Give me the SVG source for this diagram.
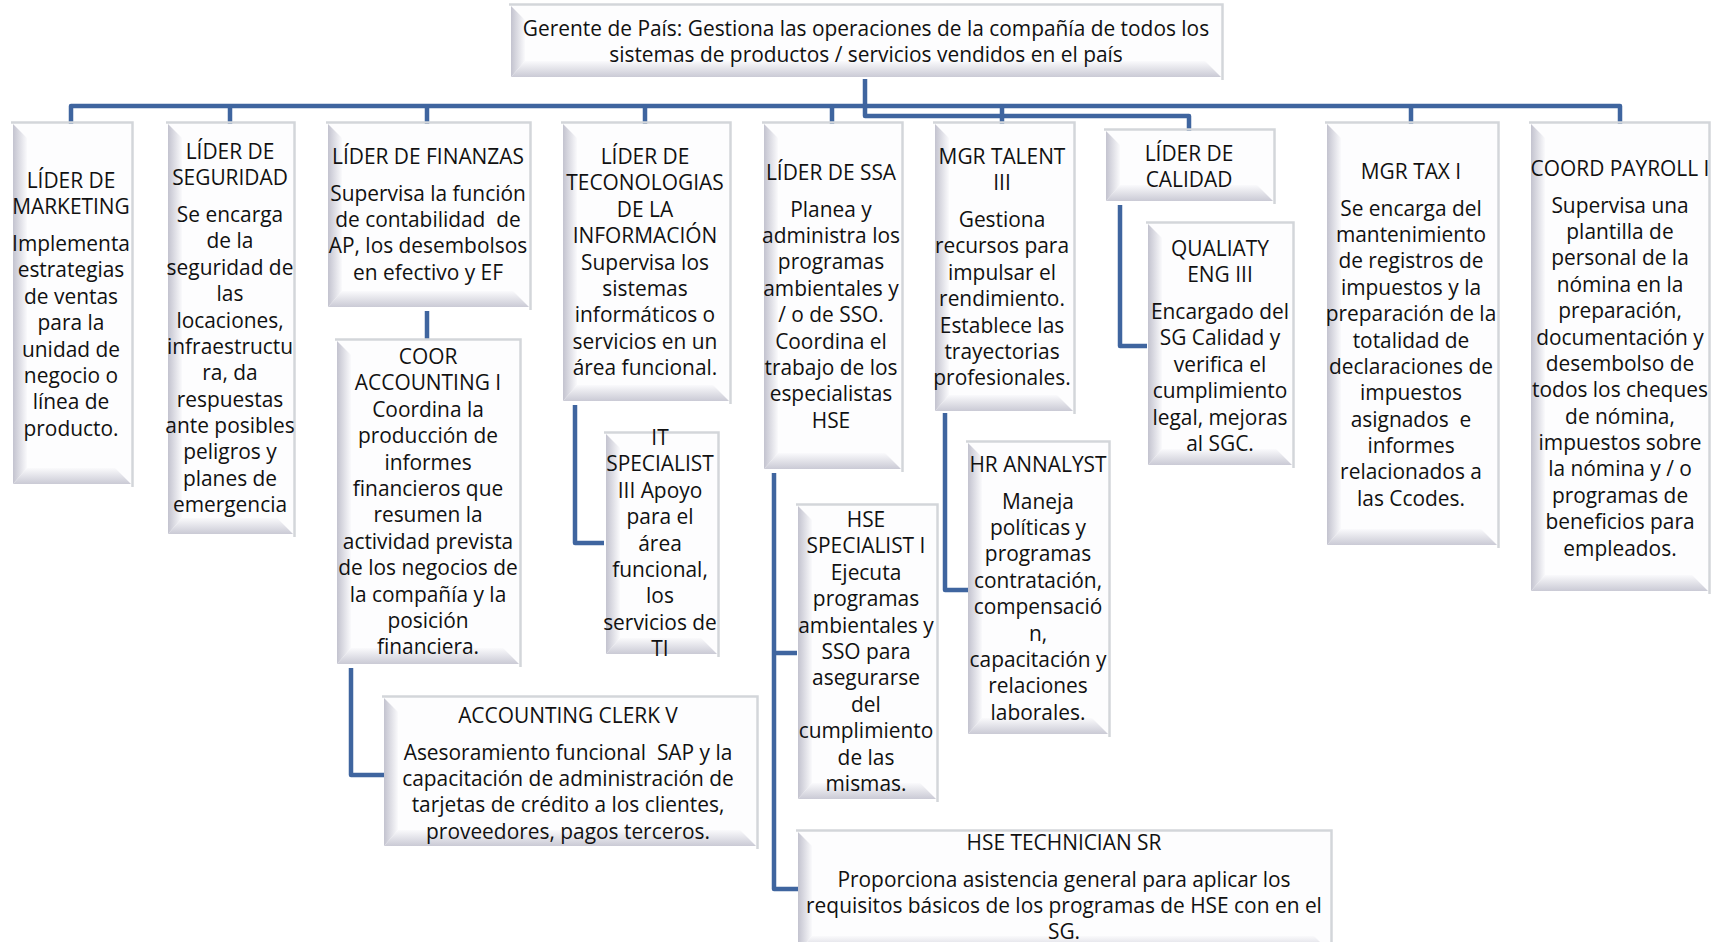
<svg xmlns="http://www.w3.org/2000/svg" width="1717" height="942" viewBox="0 0 1717 942">
  <style>
    .frame { fill: none; stroke: #d3d6da; stroke-width: 2.5; }
    .face { fill: #fdfdfe; }
    .bl { fill: url(#bevelLeft); }
    .bb { fill: url(#bevelBottom); }
    .t { font-family: "Open Sans", "Noto Sans", "Liberation Sans", sans-serif; font-size: 20.9px; fill: #111111; text-anchor: middle; white-space: pre; }
    .conn { fill: none; stroke: #3f659f; stroke-width: 4.5; stroke-linejoin: round; }
  </style>
  <defs>
    <linearGradient id="bevelLeft" x1="0" y1="0" x2="1" y2="0">
      <stop offset="0" stop-color="#c3c3cf"/>
      <stop offset="1" stop-color="#fafafc"/>
    </linearGradient>
    <linearGradient id="bevelBottom" x1="0" y1="0" x2="0" y2="1">
      <stop offset="0" stop-color="#fafafc"/>
      <stop offset="1" stop-color="#cacad5"/>
    </linearGradient>
  </defs>
  <rect width="1717" height="942" fill="#ffffff"/>

  <!-- connectors -->
  <g id="connectors">
    <path class="conn" d="M865,79 V116 H1189 V131"/>
    <path class="conn" d="M71,124 V106 H1620 V124"/>
    <path class="conn" d="M230,106 V124 M427,106 V124 M645,106 V124 M832,106 V124 M1002,106 V124 M1411,106 V124"/>
    <path class="conn" d="M427,311 V339"/>
    <path class="conn" d="M351,668 V775 H384"/>
    <path class="conn" d="M575,405 V543 H604"/>
    <path class="conn" d="M774,473 V889 H798 M774,653 H797"/>
    <path class="conn" d="M945,413 V590 H968"/>
    <path class="conn" d="M1120,205 V346 H1147"/>
  </g>

  <!-- country manager -->
  <g id="gerente">
    <path class="frame" d="M509,4.5 H1222.5 V80"/>
    <rect class="face" x="511" y="6" width="710" height="71"/>
    <polygon class="bl" points="511,6 525,20 525,61 511,77"/>
    <polygon class="bb" points="511,77 525,61 1205,61 1221,77"/>
    <text class="t"><tspan x="866" y="36">Gerente de País: Gestiona las operaciones de la compañía de todos los</tspan><tspan x="866" dy="26.4">sistemas de productos / servicios vendidos en el país</tspan></text>
  </g>

  <g id="marketing">
    <path class="frame" d="M11,122.5 H132.5 V487"/>
    <rect class="face" x="13" y="124" width="118" height="360"/>
    <polygon class="bl" points="13,124 27,138 27,468 13,484"/>
    <polygon class="bb" points="13,484 27,468 115,468 131,484"/>
    <text class="t"><tspan x="71" y="188">LÍDER DE</tspan><tspan x="71" dy="26.4">MARKETING</tspan><tspan x="71" dy="36.5">Implementa</tspan><tspan x="71" dy="26.4">estrategias</tspan><tspan x="71" dy="26.4">de ventas</tspan><tspan x="71" dy="26.4">para la</tspan><tspan x="71" dy="26.4">unidad de</tspan><tspan x="71" dy="26.4">negocio o</tspan><tspan x="71" dy="26.4">línea de</tspan><tspan x="71" dy="26.4">producto.</tspan></text>
  </g>

  <g id="seguridad">
    <path class="frame" d="M166,122.5 H294.5 V537"/>
    <rect class="face" x="168" y="124" width="125" height="410"/>
    <polygon class="bl" points="168,124 182,138 182,518 168,534"/>
    <polygon class="bb" points="168,534 182,518 277,518 293,534"/>
    <text class="t"><tspan x="230" y="159">LÍDER DE</tspan><tspan x="230" dy="26.4">SEGURIDAD</tspan><tspan x="230" dy="36.5">Se encarga</tspan><tspan x="230" dy="26.4">de la</tspan><tspan x="230" dy="26.4">seguridad de</tspan><tspan x="230" dy="26.4">las</tspan><tspan x="230" dy="26.4">locaciones,</tspan><tspan x="230" dy="26.4">infraestructu</tspan><tspan x="230" dy="26.4">ra, da</tspan><tspan x="230" dy="26.4">respuestas</tspan><tspan x="230" dy="26.4">ante posibles</tspan><tspan x="230" dy="26.4">peligros y</tspan><tspan x="230" dy="26.4">planes de</tspan><tspan x="230" dy="26.4">emergencia</tspan></text>
  </g>

  <g id="finanzas">
    <path class="frame" d="M326,122.5 H530.5 V310"/>
    <rect class="face" x="328" y="124" width="201" height="183"/>
    <polygon class="bl" points="328,124 342,138 342,291 328,307"/>
    <polygon class="bb" points="328,307 342,291 513,291 529,307"/>
    <text class="t"><tspan x="428" y="164">LÍDER DE FINANZAS</tspan><tspan x="428" dy="36.5">Supervisa la función</tspan><tspan x="428" dy="26.4">de contabilidad  de</tspan><tspan x="428" dy="26.4">AP, los desembolsos</tspan><tspan x="428" dy="26.4">en efectivo y EF</tspan></text>
  </g>

  <g id="coor-accounting">
    <path class="frame" d="M335,339.5 H520.5 V667"/>
    <rect class="face" x="337" y="341" width="182" height="323"/>
    <polygon class="bl" points="337,341 351,355 351,648 337,664"/>
    <polygon class="bb" points="337,664 351,648 503,648 519,664"/>
    <text class="t"><tspan x="428" y="364">COOR</tspan><tspan x="428" dy="26.4">ACCOUNTING I</tspan><tspan x="428" dy="26.4">Coordina la</tspan><tspan x="428" dy="26.4">producción de</tspan><tspan x="428" dy="26.4">informes</tspan><tspan x="428" dy="26.4">financieros que</tspan><tspan x="428" dy="26.4">resumen la</tspan><tspan x="428" dy="26.4">actividad prevista</tspan><tspan x="428" dy="26.4">de los negocios de</tspan><tspan x="428" dy="26.4">la compañía y la</tspan><tspan x="428" dy="26.4">posición</tspan><tspan x="428" dy="26.4">financiera.</tspan></text>
  </g>

  <g id="accounting-clerk">
    <path class="frame" d="M382,696.5 H757.5 V849"/>
    <rect class="face" x="384" y="698" width="372" height="148"/>
    <polygon class="bl" points="384,698 398,712 398,830 384,846"/>
    <polygon class="bb" points="384,846 398,830 740,830 756,846"/>
    <text class="t"><tspan x="568" y="723">ACCOUNTING CLERK V</tspan><tspan x="568" dy="36.5">Asesoramiento funcional  SAP y la</tspan><tspan x="568" dy="26.4">capacitación de administración de</tspan><tspan x="568" dy="26.4">tarjetas de crédito a los clientes,</tspan><tspan x="568" dy="26.4">proveedores, pagos terceros.</tspan></text>
  </g>

  <g id="tecnologias">
    <path class="frame" d="M561,122.5 H730.5 V404"/>
    <rect class="face" x="563" y="124" width="166" height="277"/>
    <polygon class="bl" points="563,124 577,138 577,385 563,401"/>
    <polygon class="bb" points="563,401 577,385 713,385 729,401"/>
    <text class="t"><tspan x="645" y="164">LÍDER DE</tspan><tspan x="645" dy="26.4">TECONOLOGIAS</tspan><tspan x="645" dy="26.4">DE LA</tspan><tspan x="645" dy="26.4">INFORMACIÓN</tspan><tspan x="645" dy="26.4">Supervisa los</tspan><tspan x="645" dy="26.4">sistemas</tspan><tspan x="645" dy="26.4">informáticos o</tspan><tspan x="645" dy="26.4">servicios en un</tspan><tspan x="645" dy="26.4">área funcional.</tspan></text>
  </g>

  <g id="it-specialist">
    <path class="frame" d="M604,432.5 H718.5 V657"/>
    <rect class="face" x="606" y="434" width="111" height="220"/>
    <polygon class="bl" points="606,434 620,448 620,638 606,654"/>
    <polygon class="bb" points="606,654 620,638 701,638 717,654"/>
    <text class="t"><tspan x="660" y="445">IT</tspan><tspan x="660" dy="26.4">SPECIALIST</tspan><tspan x="660" dy="26.4">III Apoyo</tspan><tspan x="660" dy="26.4">para el</tspan><tspan x="660" dy="26.4">área</tspan><tspan x="660" dy="26.4">funcional,</tspan><tspan x="660" dy="26.4">los</tspan><tspan x="660" dy="26.4">servicios de</tspan><tspan x="660" dy="26.4">TI</tspan></text>
  </g>

  <g id="ssa">
    <path class="frame" d="M762,122.5 H902.5 V472"/>
    <rect class="face" x="764" y="124" width="137" height="345"/>
    <polygon class="bl" points="764,124 778,138 778,453 764,469"/>
    <polygon class="bb" points="764,469 778,453 885,453 901,469"/>
    <text class="t"><tspan x="831" y="180">LÍDER DE SSA</tspan><tspan x="831" dy="36.5">Planea y</tspan><tspan x="831" dy="26.4">administra los</tspan><tspan x="831" dy="26.4">programas</tspan><tspan x="831" dy="26.4">ambientales y</tspan><tspan x="831" dy="26.4">/ o de SSO.</tspan><tspan x="831" dy="26.4">Coordina el</tspan><tspan x="831" dy="26.4">trabajo de los</tspan><tspan x="831" dy="26.4">especialistas</tspan><tspan x="831" dy="26.4">HSE</tspan></text>
  </g>

  <g id="hse-specialist">
    <path class="frame" d="M796,504.5 H937.5 V802"/>
    <rect class="face" x="798" y="506" width="138" height="293"/>
    <polygon class="bl" points="798,506 812,520 812,783 798,799"/>
    <polygon class="bb" points="798,799 812,783 920,783 936,799"/>
    <text class="t"><tspan x="866" y="527">HSE</tspan><tspan x="866" dy="26.4">SPECIALIST I</tspan><tspan x="866" dy="26.4">Ejecuta</tspan><tspan x="866" dy="26.4">programas</tspan><tspan x="866" dy="26.4">ambientales y</tspan><tspan x="866" dy="26.4">SSO para</tspan><tspan x="866" dy="26.4">asegurarse</tspan><tspan x="866" dy="26.4">del</tspan><tspan x="866" dy="26.4">cumplimiento</tspan><tspan x="866" dy="26.4">de las</tspan><tspan x="866" dy="26.4">mismas.</tspan></text>
  </g>

  <g id="hse-technician">
    <path class="frame" d="M796,830.5 H1331.5 V955"/>
    <rect class="face" x="798" y="832" width="532" height="120"/>
    <polygon class="bl" points="798,832 812,846 812,936 798,952"/>
    <polygon class="bb" points="798,952 812,936 1314,936 1330,952"/>
    <text class="t"><tspan x="1064" y="850">HSE TECHNICIAN SR</tspan><tspan x="1064" dy="36.5">Proporciona asistencia general para aplicar los</tspan><tspan x="1064" dy="26.4">requisitos básicos de los programas de HSE con en el</tspan><tspan x="1064" dy="26.4">SG.</tspan></text>
  </g>

  <g id="talent">
    <path class="frame" d="M933,122.5 H1074.5 V414"/>
    <rect class="face" x="935" y="124" width="138" height="287"/>
    <polygon class="bl" points="935,124 949,138 949,395 935,411"/>
    <polygon class="bb" points="935,411 949,395 1057,395 1073,411"/>
    <text class="t"><tspan x="1002" y="164">MGR TALENT</tspan><tspan x="1002" dy="26.4">III</tspan><tspan x="1002" dy="36.5">Gestiona</tspan><tspan x="1002" dy="26.4">recursos para</tspan><tspan x="1002" dy="26.4">impulsar el</tspan><tspan x="1002" dy="26.4">rendimiento.</tspan><tspan x="1002" dy="26.4">Establece las</tspan><tspan x="1002" dy="26.4">trayectorias</tspan><tspan x="1002" dy="26.4">profesionales.</tspan></text>
  </g>

  <g id="hr-analyst">
    <path class="frame" d="M966,441.5 H1109.5 V737"/>
    <rect class="face" x="968" y="443" width="140" height="291"/>
    <polygon class="bl" points="968,443 982,457 982,718 968,734"/>
    <polygon class="bb" points="968,734 982,718 1092,718 1108,734"/>
    <text class="t"><tspan x="1038" y="472">HR ANNALYST</tspan><tspan x="1038" dy="36.5">Maneja</tspan><tspan x="1038" dy="26.4">políticas y</tspan><tspan x="1038" dy="26.4">programas</tspan><tspan x="1038" dy="26.4">contratación,</tspan><tspan x="1038" dy="26.4">compensació</tspan><tspan x="1038" dy="26.4">n,</tspan><tspan x="1038" dy="26.4">capacitación y</tspan><tspan x="1038" dy="26.4">relaciones</tspan><tspan x="1038" dy="26.4">laborales.</tspan></text>
  </g>

  <g id="calidad">
    <path class="frame" d="M1104,129.5 H1274.5 V204"/>
    <rect class="face" x="1106" y="131" width="167" height="70"/>
    <polygon class="bl" points="1106,131 1120,145 1120,185 1106,201"/>
    <polygon class="bb" points="1106,201 1120,185 1257,185 1273,201"/>
    <text class="t"><tspan x="1189" y="161">LÍDER DE</tspan><tspan x="1189" dy="26.4">CALIDAD</tspan></text>
  </g>

  <g id="quality-eng">
    <path class="frame" d="M1146,222.5 H1293.5 V468"/>
    <rect class="face" x="1148" y="224" width="144" height="241"/>
    <polygon class="bl" points="1148,224 1162,238 1162,449 1148,465"/>
    <polygon class="bb" points="1148,465 1162,449 1276,449 1292,465"/>
    <text class="t"><tspan x="1220" y="256">QUALIATY</tspan><tspan x="1220" dy="26.4">ENG III</tspan><tspan x="1220" dy="36.5">Encargado del</tspan><tspan x="1220" dy="26.4">SG Calidad y</tspan><tspan x="1220" dy="26.4">verifica el</tspan><tspan x="1220" dy="26.4">cumplimiento</tspan><tspan x="1220" dy="26.4">legal, mejoras</tspan><tspan x="1220" dy="26.4">al SGC.</tspan></text>
  </g>

  <g id="tax">
    <path class="frame" d="M1325,122.5 H1498.5 V548"/>
    <rect class="face" x="1327" y="124" width="170" height="421"/>
    <polygon class="bl" points="1327,124 1341,138 1341,529 1327,545"/>
    <polygon class="bb" points="1327,545 1341,529 1481,529 1497,545"/>
    <text class="t"><tspan x="1411" y="179">MGR TAX I</tspan><tspan x="1411" dy="36.5">Se encarga del</tspan><tspan x="1411" dy="26.4">mantenimiento</tspan><tspan x="1411" dy="26.4">de registros de</tspan><tspan x="1411" dy="26.4">impuestos y la</tspan><tspan x="1411" dy="26.4">preparación de la</tspan><tspan x="1411" dy="26.4">totalidad de</tspan><tspan x="1411" dy="26.4">declaraciones de</tspan><tspan x="1411" dy="26.4">impuestos</tspan><tspan x="1411" dy="26.4">asignados  e</tspan><tspan x="1411" dy="26.4">informes</tspan><tspan x="1411" dy="26.4">relacionados a</tspan><tspan x="1411" dy="26.4">las Ccodes.</tspan></text>
  </g>

  <g id="payroll">
    <path class="frame" d="M1529,122.5 H1709.5 V594"/>
    <rect class="face" x="1531" y="124" width="177" height="467"/>
    <polygon class="bl" points="1531,124 1545,138 1545,575 1531,591"/>
    <polygon class="bb" points="1531,591 1545,575 1692,575 1708,591"/>
    <text class="t"><tspan x="1620" y="176">COORD PAYROLL I</tspan><tspan x="1620" dy="36.5">Supervisa una</tspan><tspan x="1620" dy="26.4">plantilla de</tspan><tspan x="1620" dy="26.4">personal de la</tspan><tspan x="1620" dy="26.4">nómina en la</tspan><tspan x="1620" dy="26.4">preparación,</tspan><tspan x="1620" dy="26.4">documentación y</tspan><tspan x="1620" dy="26.4">desembolso de</tspan><tspan x="1620" dy="26.4">todos los cheques</tspan><tspan x="1620" dy="26.4">de nómina,</tspan><tspan x="1620" dy="26.4">impuestos sobre</tspan><tspan x="1620" dy="26.4">la nómina y / o</tspan><tspan x="1620" dy="26.4">programas de</tspan><tspan x="1620" dy="26.4">beneficios para</tspan><tspan x="1620" dy="26.4">empleados.</tspan></text>
  </g>
</svg>
